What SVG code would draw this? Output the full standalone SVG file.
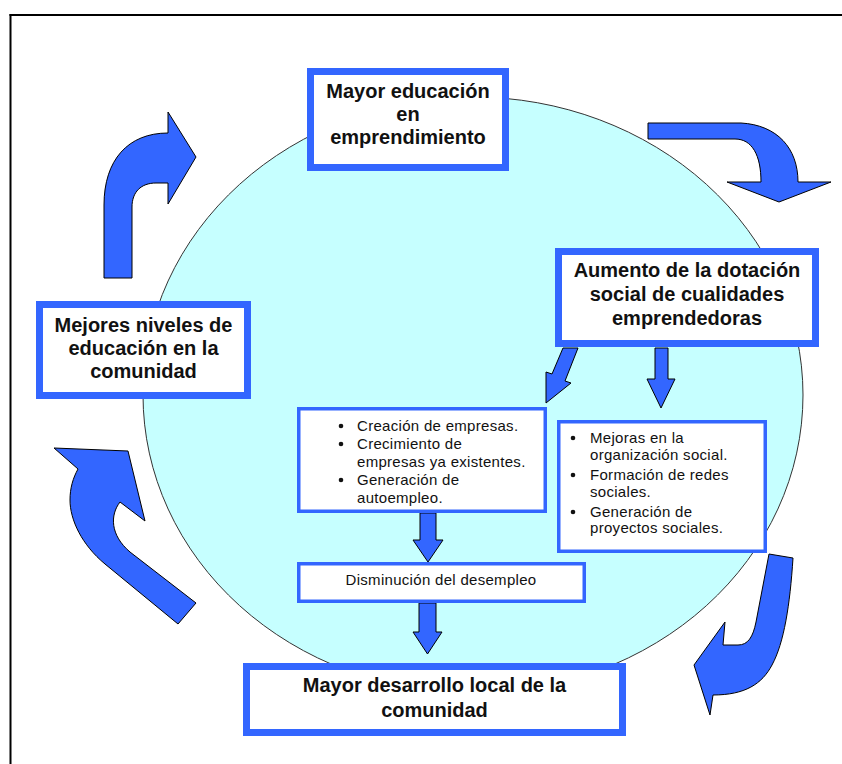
<svg xmlns="http://www.w3.org/2000/svg" width="842" height="764" viewBox="0 0 842 764">
<style>
.bigbox{fill:#fff;stroke:#3366FF;stroke-width:7}
.smallbox{fill:#fff;stroke:#3366FF;stroke-width:3.5}
.big{font-family:"Liberation Sans",Arial,sans-serif;font-weight:bold;font-size:20px;fill:#111;text-anchor:middle}
.small{font-family:"Liberation Sans",Arial,sans-serif;font-size:15px;fill:#111;letter-spacing:0.3px}
.arrow{fill:#3366FF;stroke:#000;stroke-width:1;stroke-linejoin:round}
.dot{fill:#111}
</style>
<rect width="842" height="764" fill="#fff"/>
<g id="frame" fill="none" stroke="#000" stroke-width="2">
<line x1="9.5" y1="15" x2="842" y2="15"/>
<line x1="10.5" y1="14" x2="10.5" y2="764"/>
</g>
<ellipse id="circle" cx="473" cy="395" rx="330" ry="298" fill="#C6FFFF" stroke="#333" stroke-width="1"/>
<g id="connectors">
<path class="arrow" d="M104,278 L104,205 C104,160 128,133 168,133 L168,112 L196,157 L168,204 L168,183 L156,183 C141,183 132,192 132,207 L132,278 Z"/>
<path class="arrow" d="M648,123 L741,123 C777,125 798,148 798,182 L831,182 L779,202 L727,182 L761,182 C761,155 752,139 735,139 L648,139 Z"/>
<path class="arrow" d="M769,554 L793,558 C790,605 784,643 772,665 C762,684 745,695 713,695 L710,715 L694,665 L725,622 L723,645 L738,645 C748,645 753,637 756,622 L769,554 Z"/>
<path class="arrow" d="M178,624 L105,564 C82,545 70,520 70,500 C70,488 73,478 78,469 L54,448 L128,451 L145,521 L120,502 C110,515 110,535 130,552 L196,603 Z"/>
<path class="arrow" d="M563,348 L578,348 L565,381 L571,383 L546,403 L546,372 L552,374 Z"/>
<path class="arrow" d="M655,348 L668,348 L668,379 L675,379 L661,408 L647,379 L655,379 Z"/>
<path class="arrow" d="M420,513 L436,513 L436,540 L443,540 L428,562 L413,540 L420,540 Z"/>
<path class="arrow" d="M419,603 L436,603 L436,632 L442,632 L427.5,654 L413,632 L419,632 Z"/>
</g>
<g id="node-educacion">
<rect class="bigbox" x="310.5" y="71.5" width="195" height="96"/>
<text class="big" x="408" y="98">Mayor educación</text>
<text class="big" x="408" y="121">en</text>
<text class="big" x="408" y="144">emprendimiento</text>
</g>
<g id="node-aumento">
<rect class="bigbox" x="558.5" y="251.5" width="257" height="92"/>
<text class="big" x="687" y="277">Aumento de la dotación</text>
<text class="big" x="687" y="301">social de cualidades</text>
<text class="big" x="687" y="325">emprendedoras</text>
</g>
<g id="node-mejores">
<rect class="bigbox" x="39.5" y="304.5" width="208" height="91"/>
<text class="big" x="143.5" y="332">Mejores niveles de</text>
<text class="big" x="143.5" y="355">educación en la</text>
<text class="big" x="143.5" y="378">comunidad</text>
</g>
<g id="node-desarrollo">
<rect class="bigbox" x="246.5" y="666.5" width="376" height="66"/>
<text class="big" x="434.5" y="692">Mayor desarrollo local de la</text>
<text class="big" x="434.5" y="717">comunidad</text>
</g>
<g id="node-empresas">
<rect class="smallbox" x="298.75" y="408.75" width="246.5" height="102.5"/>
<circle class="dot" cx="341" cy="426" r="2.3"/>
<circle class="dot" cx="341" cy="444" r="2.3"/>
<circle class="dot" cx="341" cy="480" r="2.3"/>
<text class="small" x="357" y="431">Creación de empresas.</text>
<text class="small" x="357" y="449">Crecimiento de</text>
<text class="small" x="357" y="467">empresas ya existentes.</text>
<text class="small" x="357" y="485">Generación de</text>
<text class="small" x="357" y="503">autoempleo.</text>
</g>
<g id="node-social">
<rect class="smallbox" x="558.75" y="421.75" width="206.5" height="129.5"/>
<circle class="dot" cx="573" cy="438" r="2.3"/>
<circle class="dot" cx="573" cy="475" r="2.3"/>
<circle class="dot" cx="573" cy="512" r="2.3"/>
<text class="small" x="590" y="443">Mejoras en la</text>
<text class="small" x="590" y="460">organización social.</text>
<text class="small" x="590" y="480">Formación de redes</text>
<text class="small" x="590" y="497">sociales.</text>
<text class="small" x="590" y="517">Generación de</text>
<text class="small" x="590" y="533">proyectos sociales.</text>
</g>
<g id="node-desempleo">
<rect class="smallbox" x="298.75" y="563.75" width="285.5" height="37.5"/>
<text class="small" x="441" y="585" text-anchor="middle">Disminución del desempleo</text>
</g>
</svg>
